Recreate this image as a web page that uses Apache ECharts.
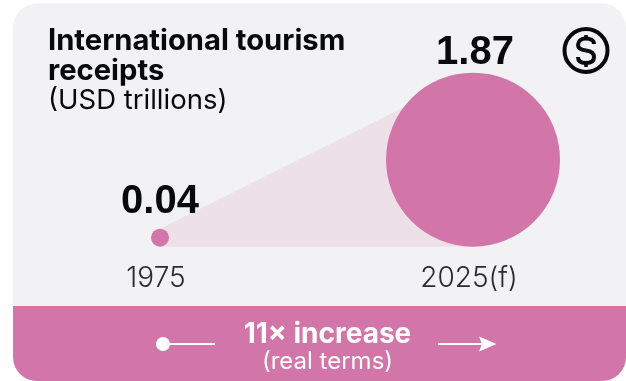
<!DOCTYPE html>
<html>
<head>
<meta charset="utf-8">
<style>html,body{margin:0;padding:0;background:#fff}#c{width:626px;height:381px}</style>
<script src="https://cdn.jsdelivr.net/npm/echarts@6/dist/echarts.min.js"></script>
</head>
<body>
<div id="c"></div>
<script>
// International tourism receipts, USD trillions
const years = ['1975', '2025(f)'];
const receipts = [0.04, 1.87];
const valueLabels = ['0.04', '1.87'];

const PINK = '#D276A9';
const WEDGE = '#EDE1E7';
const CARD = '#F2F2F4';
const INK = '#08090A';
const FONT = 'Inter, "Noto Sans", sans-serif';

// Curve segments of the S in the dollar badge: start, control, control, end
const dollarCurves = [
  [594, 44, 594, 40, 590, 38.5, 586, 38.5],
  [586, 38.5, 581, 38.5, 578, 41, 578, 45],
  [578, 45, 578, 49, 582, 50, 586, 50.5],
  [586, 50.5, 590, 51, 594, 53, 594, 57],
  [594, 57, 594, 61, 591, 63, 586, 63],
  [586, 63, 581, 63, 578, 61, 578, 57]
];
const dollarIcon = dollarCurves.map(c => ({
  type: 'bezierCurve',
  shape: { x1: c[0], y1: c[1], cpx1: c[2], cpy1: c[3], cpx2: c[4], cpy2: c[5], x2: c[6], y2: c[7] },
  style: { fill: 'none', stroke: INK, lineWidth: 4 }
}));

// Bubble radius in pixels for a receipts value
const radius = v => 87 * Math.pow(v / 1.87, 0.59);

const chart = echarts.init(document.getElementById('c'), null, { renderer: 'canvas' });

chart.setOption({
  animation: false,
  backgroundColor: '#fff',
  grid: { left: 160, right: 153, top: 60, bottom: 134.3, containLabel: false },
  xAxis: {
    type: 'category',
    data: years,
    boundaryGap: false,
    axisLine: { show: false },
    axisTick: { show: false },
    splitLine: { show: false },
    axisLabel: {
      color: '#2b2b2d', fontFamily: FONT, fontSize: 28, fontWeight: 300,
      margin: 18, padding: [0, 8, 0, 0], hideOverlap: false, showMinLabel: true, showMaxLabel: true
    }
  },
  yAxis: { type: 'value', min: 0, max: 1, show: false },
  graphic: [
    { type: 'rect', z: -10, shape: { x: 13, y: 3.5, width: 613, height: 378, r: 24 }, style: { fill: CARD } },
    { type: 'rect', z: -9, shape: { x: 13, y: 306, width: 613, height: 75, r: [0, 0, 24, 24] }, style: { fill: PINK } },
    { type: 'text', left: 48, top: 26, style: { text: 'International tourism\nreceipts', fontFamily: FONT, fontWeight: 700, fontSize: 29.2, lineHeight: 30, fill: INK } },
    { type: 'text', left: 48, top: 87, style: { text: '(USD trillions)', fontFamily: FONT, fontWeight: 400, fontSize: 27.5, fill: INK } },
    // Dollar badge
    { type: 'circle', shape: { cx: 586, cy: 50.5, r: 21.5 }, style: { fill: 'none', stroke: INK, lineWidth: 4 } },
    ...dollarIcon,
    { type: 'line', shape: { x1: 586, y1: 35, x2: 586, y2: 39 }, style: { stroke: INK, lineWidth: 3.6 } },
    { type: 'line', shape: { x1: 586, y1: 63, x2: 586, y2: 67 }, style: { stroke: INK, lineWidth: 3.6 } },
    // Growth band
    { type: 'text', x: 327.5, y: 335, style: { text: '11× increase', fontFamily: FONT, fontWeight: 700, fontSize: 28, fill: '#fff', align: 'center', verticalAlign: 'middle' } },
    { type: 'text', x: 327.5, y: 362, style: { text: '(real terms)', fontFamily: FONT, fontWeight: 400, fontSize: 24, fill: '#fff', align: 'center', verticalAlign: 'middle' } },
    { type: 'circle', shape: { cx: 163, cy: 344, r: 7 }, style: { fill: '#fff' } },
    { type: 'line', shape: { x1: 163, y1: 344, x2: 215, y2: 344 }, style: { stroke: '#fff', lineWidth: 2.2 } },
    { type: 'line', shape: { x1: 438, y1: 344, x2: 486, y2: 344 }, style: { stroke: '#fff', lineWidth: 2.2 } },
    { type: 'polygon', shape: { points: [[479, 336.5], [496.5, 344], [479, 351.5], [482, 344]] }, style: { fill: '#fff' } }
  ],
  series: [
    {
      // Band joining the tops and bottoms of the two bubbles
      type: 'custom',
      coordinateSystem: 'cartesian2d',
      z: 1,
      silent: true,
      data: [[0, 0]],
      renderItem: (params, api) => {
        const a = api.coord([0, 0]);
        const b = api.coord([1, 0]);
        return {
          type: 'polygon',
          shape: { points: [
            [a[0], a[1] - 2 * radius(receipts[0])],
            [b[0], b[1] - 2 * radius(receipts[1])],
            [b[0], b[1]],
            [a[0], a[1]]
          ] },
          style: { fill: WEDGE }
        };
      }
    },
    {
      type: 'scatter',
      z: 2,
      silent: true,
      itemStyle: { color: PINK, opacity: 1 },
      data: receipts.map((v, i) => ({
        value: [i, 0],
        symbolSize: 2 * radius(v),
        symbolOffset: [0, -radius(v)],
        label: {
          show: true,
          position: 'top',
          distance: i === 0 ? 7 : 0,
          offset: i === 0 ? [0, 0] : [2, 0],
          formatter: valueLabels[i],
          color: INK,
          fontFamily: '"Liberation Sans", Arial, sans-serif',
          fontWeight: 700,
          fontSize: 40
        }
      }))
    }
  ]
});
</script>
</body>
</html>
